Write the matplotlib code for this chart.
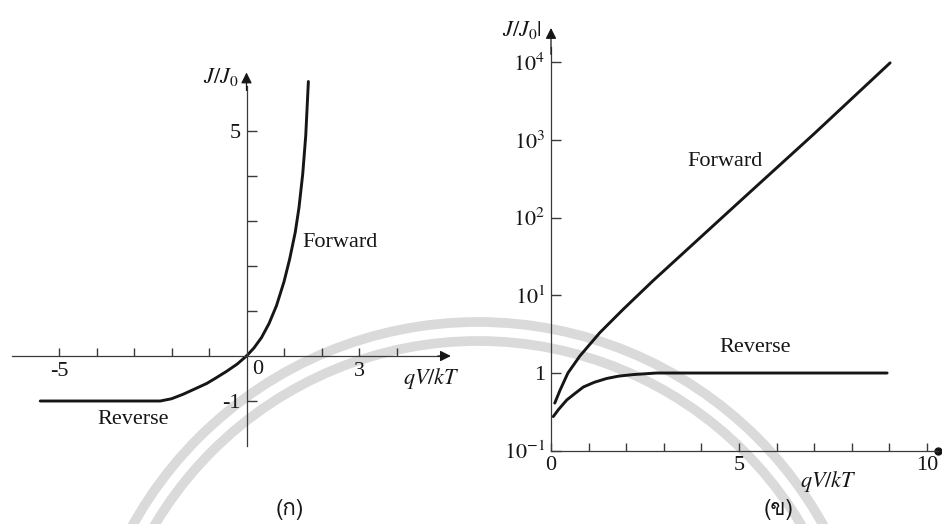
import matplotlib
matplotlib.use("Agg")
import matplotlib.pyplot as plt
from matplotlib import font_manager as fm
from matplotlib.ft2font import FT2Font
from matplotlib.patches import Circle
from matplotlib.ticker import NullLocator

# ----------------------------
# Data  (qV/kT , J/J0)
# ----------------------------
# linear plot, one curve split at the origin
LIN_REV_V = [-5.5, -4.5, -3.5, -2.3, -2.0, -1.69, -1.4, -1.06, -0.8, -0.53, -0.25, 0.0]
LIN_REV_J = [-1.0, -1.0, -1.0, -1.0, -0.95, -0.85, -0.74, -0.61, -0.48, -0.34, -0.18, 0.0]
LIN_FWD_V = [0.0, 0.2, 0.4, 0.6, 0.8, 1.0, 1.15, 1.3, 1.4, 1.5, 1.58, 1.65]
LIN_FWD_J = [0.0, 0.18, 0.41, 0.72, 1.12, 1.65, 2.15, 2.75, 3.3, 4.05, 4.9, 6.1]

LIN_XTICKS  = [-5, -4, -3, -2, -1, 1, 2, 3, 4]
LIN_XLABELS = ["-5", "", "", "", "", "", "", "3", ""]
LIN_YTICKS  = [-1, 1, 2, 3, 4, 5]
LIN_YLABELS = ["-1", "", "", "", "", "5"]

# semilog plot, |J/J0|
LOG_FWD_V = [0.1, 0.24, 0.45, 0.77, 1.3, 1.92, 2.72, 5.0, 7.0, 9.02]
LOG_FWD_J = [0.41, 0.60, 1.0, 1.66, 3.31, 6.6, 15.5, 158, 1200, 9800]
LOG_REV_V = [0.06, 0.2, 0.42, 0.62, 0.86, 1.15, 1.48, 1.8, 2.19, 2.81, 6.0, 8.94]
LOG_REV_J = [0.275, 0.339, 0.45, 0.537, 0.66, 0.759, 0.85, 0.912, 0.955, 1.0, 1.0, 1.0]

LOG_XTICKS  = [0, 1, 2, 3, 4, 5, 6, 7, 8, 9, 10]
LOG_XLABELS = ["0", "", "", "", "", "5", "", "", "", "", "10"]
LOG_YTICKS  = [0.1, 1, 10, 100, 1000, 10000]
LOG_YLABELS = [r"$10^{-1}$", "1", r"$10^{1}$", r"$10^{2}$", r"$10^{3}$", r"$10^{4}$"]

# ----------------------------
# Style
# ----------------------------
W, H, DPI = 942, 524, 100
INK   = "#161616"
AXC   = "#3a3a3a"
FS    = 16
MFS   = 16
CURVE = dict(color=INK, lw=2.1, solid_capstyle="round", solid_joinstyle="round")

plt.rcParams["font.family"] = ["Liberation Serif", "DejaVu Serif"]
plt.rcParams["mathtext.fontset"] = "stix"


def thai_family():
    for f in fm.fontManager.ttflist:
        try:
            if 0x0E01 in FT2Font(f.fname).get_charmap():
                return f.name
        except Exception:
            continue
    return "DejaVu Sans"


THAI = thai_family()


def arrow(ax, base, tip):
    ax.annotate("", xy=tip, xytext=base,
                arrowprops=dict(arrowstyle="-|>", mutation_scale=16, color=INK,
                                lw=0.9, shrinkA=0, shrinkB=0), annotation_clip=False)


def style_axes(ax):
    ax.set_facecolor("none")
    for s in ("top", "right"):
        ax.spines[s].set_visible(False)
    for s in ("left", "bottom"):
        ax.spines[s].set_color(AXC)
        ax.spines[s].set_linewidth(0.9)
    ax.tick_params(direction="in", colors=AXC, labelcolor=INK, labelsize=FS, width=1.0)
    ax.tick_params(axis="x", length=6, pad=4)
    ax.tick_params(axis="y", length=7, pad=4)


fig = plt.figure(figsize=(W / DPI, H / DPI), dpi=DPI)

# faint background rings
bg = fig.add_axes([0, 0, 1, 1], zorder=-1)
bg.set_xlim(0, W)
bg.set_ylim(H, 0)
bg.axis("off")
for r in (395, 376):
    bg.add_patch(Circle((478, 717), r, fill=False, lw=7, ec="#dadada"))

# ----------------------------
# (a) linear
# ----------------------------
axL = fig.add_axes([2.75 / W, 0, 453.75 / W, 1])
axL.set_xlim(-6.5, 5.6)
axL.set_ylim(-3.733, 7.911)
style_axes(axL)
axL.spines["bottom"].set_position(("data", 0))
axL.spines["left"].set_position(("data", 0))
axL.spines["bottom"].set_bounds(-6.25, 5.2)
axL.spines["left"].set_bounds(-2.0, 6.0)
axL.set_xticks(LIN_XTICKS, LIN_XLABELS)
axL.set_yticks(LIN_YTICKS, LIN_YLABELS)
arrow(axL, (5.1, 0), (5.45, 0))
arrow(axL, (0, 5.9), (0, 6.3))

axL.plot(LIN_REV_V, LIN_REV_J, **CURVE)
axL.plot(LIN_FWD_V, LIN_FWD_J, **CURVE)

axL.text(0.31, -0.31, "0", fontsize=FS, color=INK, ha="center", va="center")
axL.text(-0.68, 6.2, r"$J/J_0$", fontsize=MFS, color=INK, ha="center", va="center")
axL.text(4.92, -0.49, r"$qV/kT$", fontsize=MFS, color=INK, ha="center", va="center")
axL.text(1.48, 2.53, "Forward", fontsize=FS, color=INK, ha="left", va="center")
axL.text(-3.99, -1.42, "Reverse", fontsize=FS, color=INK, ha="left", va="center")
axL.text(1.16, -3.42, "(ก)", fontsize=FS, color=INK, ha="center", va="center",
         family=[THAI, "DejaVu Sans"])

# ----------------------------
# (b) semilog
# ----------------------------
axR = fig.add_axes([494.6 / W, 0, (W - 494.6) / W, 1])
axR.set_yscale("log")
axR.set_xlim(-1.5, 10.4)
axR.set_ylim(10 ** -1.943, 10 ** 4.80)
style_axes(axR)
axR.spines["bottom"].set_position(("data", 0.1))
axR.spines["left"].set_position(("data", 0))
axR.spines["bottom"].set_bounds(0, 10.3)
axR.spines["left"].set_bounds(0.1, 10 ** 4.2)
axR.set_xticks(LOG_XTICKS, LOG_XLABELS)
axR.set_yticks(LOG_YTICKS, LOG_YLABELS)
axR.yaxis.set_minor_locator(NullLocator())
arrow(axR, (0, 10 ** 4.1), (0, 10 ** 4.44))
axR.plot(10.3, 0.1, "o", ms=5, color=INK, clip_on=False)

axR.plot(LOG_FWD_V, LOG_FWD_J, **CURVE)
axR.plot(LOG_REV_V, LOG_REV_J, **CURVE)

axR.text(-0.77, 10 ** 4.41, r"$J/J_0|$", fontsize=MFS, color=INK, ha="center", va="center")
axR.text(7.39, 10 ** -1.39, r"$qV/kT$", fontsize=MFS, color=INK, ha="center", va="center")
axR.text(3.62, 520, "Forward", fontsize=FS, color=INK, ha="left", va="center")
axR.text(4.49, 2.1, "Reverse", fontsize=FS, color=INK, ha="left", va="center")
axR.text(6.04, 10 ** -1.75, "(ข)", fontsize=FS, color=INK, ha="center", va="center",
         family=[THAI, "DejaVu Sans"])

fig.savefig("out.png", dpi=DPI)
